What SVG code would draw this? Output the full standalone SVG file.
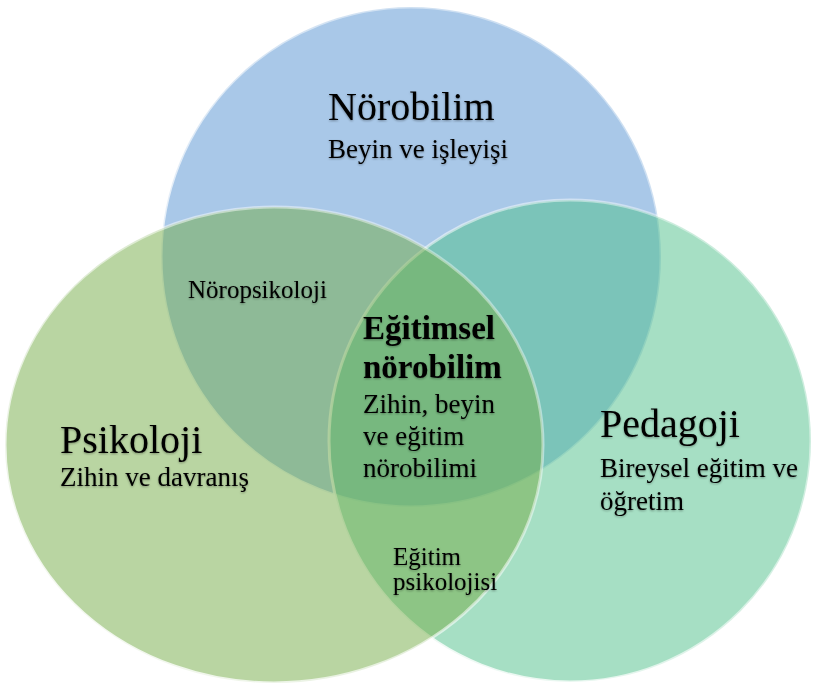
<svg xmlns="http://www.w3.org/2000/svg" width="824" height="687" viewBox="0 0 824 687">
  <defs>
    <!-- soft bevel rim: brighter towards the lower left -->
    <linearGradient id="rim" x1="0" y1="1" x2="1" y2="0">
      <stop offset="0" stop-color="#ffffff" stop-opacity="0.95"/>
      <stop offset="0.5" stop-color="#ffffff" stop-opacity="0.55"/>
      <stop offset="1" stop-color="#ffffff" stop-opacity="0.35"/>
    </linearGradient>
    <filter id="glow" x="-10%" y="-30%" width="120%" height="160%">
      <feDropShadow dx="0" dy="1" stdDeviation="1.2" flood-color="#000000" flood-opacity="0.35"/>
    </filter>
  </defs>
  <style>
    .set { stroke: url(#rim); stroke-width: 3; }
    .blue { fill: #5391d1; fill-opacity: 0.5; }
    .teal { fill: #4dbf89; fill-opacity: 0.5; }
    .green { fill: #73ab45; fill-opacity: 0.5; }
    text { font-family: "Liberation Serif", "Times New Roman", serif; fill: #000000; filter: url(#glow); }
    .title { font-size: 40px; }
    .sub { font-size: 27px; }
    .small { font-size: 25px; }
    .bold { font-size: 33px; font-weight: bold; }
  </style>

  <!-- Nörobilim -->
  <g id="node-norobilim">
    <circle class="set blue" cx="411" cy="257" r="250"/>
    <text class="title" x="328" y="120">Nörobilim</text>
    <text class="sub" x="328" y="158">Beyin ve işleyişi</text>
  </g>

  <!-- Pedagoji -->
  <g id="node-pedagoji">
    <circle class="set teal" cx="570" cy="441" r="241"/>
    <text class="title" x="600" y="437">Pedagoji</text>
    <text class="sub" x="600" y="477">Bireysel eğitim ve</text>
    <text class="sub" x="600" y="510">öğretim</text>
  </g>

  <!-- Psikoloji -->
  <g id="node-psikoloji">
    <ellipse class="set green" cx="274" cy="445" rx="269" ry="238"/>
    <text class="title" x="60" y="453">Psikoloji</text>
    <text class="sub" x="60" y="486">Zihin ve davranış</text>
  </g>

  <!-- overlap labels -->
  <g id="node-noropsikoloji">
    <text class="small" x="188" y="298">Nöropsikoloji</text>
  </g>
  <g id="node-egitimsel-norobilim">
    <text class="bold" x="363" y="339">Eğitimsel</text>
    <text class="bold" x="363" y="378">nörobilim</text>
    <text class="sub" x="363" y="413">Zihin, beyin</text>
    <text class="sub" x="363" y="445">ve eğitim</text>
    <text class="sub" x="363" y="477">nörobilimi</text>
  </g>
  <g id="node-egitim-psikolojisi">
    <text class="small" x="393" y="565">Eğitim</text>
    <text class="small" x="393" y="590">psikolojisi</text>
  </g>

  <g id="connectors"/>
</svg>
